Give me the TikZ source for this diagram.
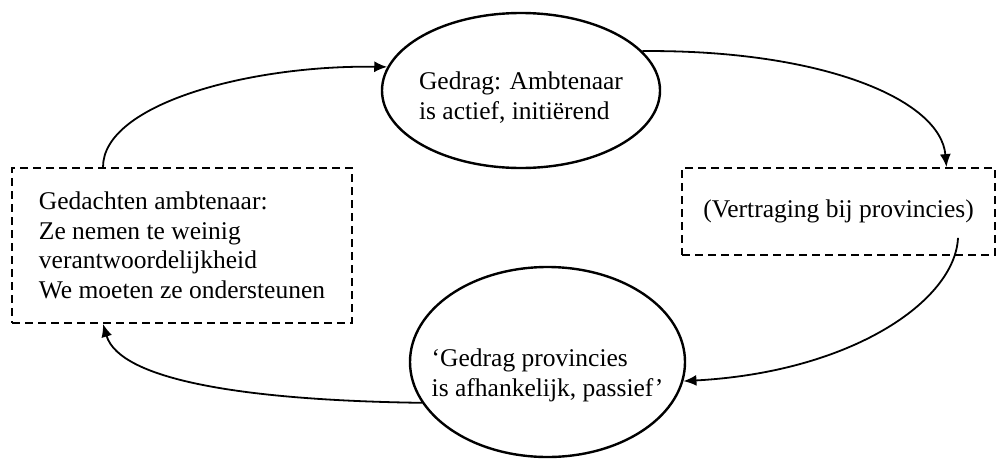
\documentclass[tikz,border=0pt]{standalone}
\usepackage{fontspec}
\setmainfont{Liberation Serif}
\usetikzlibrary{shapes.geometric,arrows.meta}

\tikzstyle{state}=[ellipse,draw,line width=2.4pt,inner ysep=0pt,align=left,font=\fontsize{25.5}{29.5}\selectfont]
\tikzstyle{note}=[rectangle,draw,line width=1.8pt,dash pattern=on 8pt off 5pt,align=left,font=\fontsize{25.5}{29.5}\selectfont]
\tikzstyle{loop edge}=[draw,line width=1.8pt,-{Latex[length=13pt,width=11pt]}]

\begin{document}
\begin{tikzpicture}[x=1pt,y=-1pt]
		\useasboundingbox (0,0) rectangle (998,461);
		\node[state,minimum width=278pt,minimum height=155pt,inner xsep=-10pt] (act) at (521,90.5) {\rule{0pt}{32pt}Gedrag: Ambtenaar\\is actief, initiërend};
		\node[state,minimum width=275pt,minimum height=190pt,inner xsep=-25pt] (pas) at (547.5,362) {\rule{0pt}{44pt}‘Gedrag provincies\\is afhankelijk, passief’};
		\node[note,minimum width=340pt,minimum height=155pt] (thought) at (182,245.5) {Gedachten ambtenaar:\\Ze nemen te weinig\\verantwoordelijkheid\\We moeten ze ondersteunen};
		\node[note,minimum width=313pt,minimum height=87pt] (delay) at (838.5,211.5) {(Vertraging bij provincies)};
		% Connect the four parts of the loop
		\path[loop edge] ([xshift=-79pt]thought.north) .. controls +(0,-63) and +(-138,-2) .. (act.170);
		\path[loop edge] (act.18) .. controls +(179,-1.5) and +(-6,-68) .. ([xshift=108pt]delay.north);
		\path[loop edge] ([xshift=119.5pt,yshift=18pt]delay.south) .. controls +(-3,63) and +(168,-9) .. (pas.-8);
		\path[loop edge] (pas.198) .. controls +(-173,-2.4) and +(17,57) .. ([xshift=-79pt]thought.south);
\end{tikzpicture}
\end{document}
